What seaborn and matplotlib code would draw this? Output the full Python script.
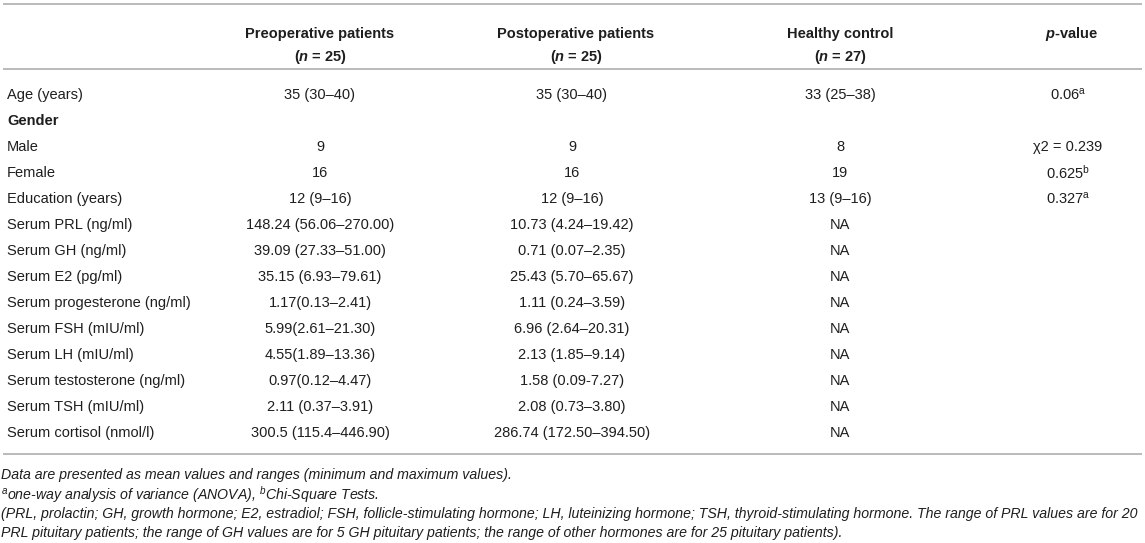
import matplotlib
matplotlib.use("Agg")
import matplotlib.pyplot as plt
import seaborn as sns
import pandas as pd

# ---------------- data ----------------
row_labels = ["Age (years)", "Gender", "Male", "Female", "Education (years)",
              "Serum PRL (ng/ml)", "Serum GH (ng/ml)", "Serum E2 (pg/ml)",
              "Serum progesterone (ng/ml)", "Serum FSH (mIU/ml)", "Serum LH (mIU/ml)",
              "Serum testosterone (ng/ml)", "Serum TSH (mIU/ml)", "Serum cortisol (nmol/l)"]
bold_rows = ["Gender"]
preop = ["35 (30–40)", "", "9", "16", "12 (9–16)", "148.24 (56.06–270.00)",
         "39.09 (27.33–51.00)", "35.15 (6.93–79.61)", "1.17(0.13–2.41)",
         "5.99(2.61–21.30)", "4.55(1.89–13.36)", "0.97(0.12–4.47)",
         "2.11 (0.37–3.91)", "300.5 (115.4–446.90)"]
postop = ["35 (30–40)", "", "9", "16", "12 (9–16)", "10.73 (4.24–19.42)",
          "0.71 (0.07–2.35)", "25.43 (5.70–65.67)", "1.11 (0.24–3.59)",
          "6.96 (2.64–20.31)", "2.13 (1.85–9.14)", "1.58 (0.09-7.27)",
          "2.08 (0.73–3.80)", "286.74 (172.50–394.50)"]
healthy = ["33 (25–38)", "", "8", "19", "13 (9–16)", "NA", "NA", "NA", "NA",
           "NA", "NA", "NA", "NA", "NA"]
pvalue = ["0.06$^{\\mathrm{a}}$", "", "χ2 = 0.239", "0.625$^{\\mathrm{b}}$",
          "0.327$^{\\mathrm{a}}$", "", "", "", "", "", "", "", "", ""]
header_line1 = ["Preoperative patients", "Postoperative patients", "Healthy control",
                "$\\mathbfit{p}$-value"]
header_line2 = ["($\\mathbfit{n}$ = 25)", "($\\mathbfit{n}$ = 25)", "($\\mathbfit{n}$ = 27)", ""]
footnotes = [
    "Data are presented as mean values and ranges (minimum and maximum values).",
    "$^{a}$one-way analysis of variance (ANOVA), $^{b}$Chi-Square Tests.",
    "(PRL, prolactin; GH, growth hormone; E2, estradiol; FSH, follicle-stimulating hormone; "
    "LH, luteinizing hormone; TSH, thyroid-stimulating hormone. The range of PRL values are for 20",
    "PRL pituitary patients; the range of GH values are for 5 GH pituitary patients; "
    "the range of other hormones are for 25 pituitary patients).",
]

df = pd.DataFrame({"label": row_labels, "pre": preop, "post": postop,
                   "healthy": healthy, "p": pvalue})

# ---------------- style ----------------
sns.set_theme(style="white")
plt.rcParams["font.family"] = ["Liberation Sans", "DejaVu Sans"]
plt.rcParams["mathtext.fontset"] = "custom"
plt.rcParams["mathtext.rm"] = "Liberation Sans"
plt.rcParams["mathtext.it"] = "Liberation Sans:italic"
plt.rcParams["mathtext.bf"] = "Liberation Sans:bold"
plt.rcParams["mathtext.bfit"] = "Liberation Sans:bold:italic"

W, H = 1145, 543
fig = plt.figure(figsize=(W / 100, H / 100), dpi=100)
ax = fig.add_axes([0, 0, 1, 1])
ax.set_xlim(0, W)
ax.set_ylim(H, 0)
ax.axis("off")

txt = "#1e1e1e"
rule = "#b4b4b4"
fs = 10.5
col_x = {"pre": 320, "post": 572, "healthy": 840, "p": 1068}
hdr_x = [320, 576, 840, 1072]
left_x = 7

y_top_rule = 4
y_h1, y_h2 = 34, 57
y_hdr_rule = 69
y_row0, pitch = 95, 26.0
y_bot_rule = 454
y_foot0, foot_pitch = 475, 19.3

for y in (y_top_rule, y_hdr_rule, y_bot_rule):
    ax.plot([3, W - 3], [y, y], color=rule, lw=1.3, solid_capstyle="butt")

for x, t1, t2 in zip(hdr_x, header_line1, header_line2):
    ax.text(x, y_h1, t1, ha="center", va="center", fontsize=fs, fontweight="bold", color=txt)
    if t2:
        ax.text(x, y_h2, t2, ha="center", va="center", fontsize=fs, fontweight="bold", color=txt)

for i, r in df.iterrows():
    y = y_row0 + i * pitch
    ax.text(left_x, y, r["label"], ha="left", va="center", fontsize=fs, color=txt,
            fontweight="bold" if r["label"] in bold_rows else "normal")
    for c in ("pre", "post", "healthy", "p"):
        if r[c]:
            ax.text(col_x[c], y, r[c], ha="center", va="center", fontsize=fs, color=txt)

# footnotes: fit the long line to the figure width
renderer = fig.canvas.get_renderer()
probe = ax.text(0, 0, footnotes[2], fontsize=10, style="italic")
w10 = probe.get_window_extent(renderer).width
probe.remove()
ffs = 10 * 1136 / w10
for k, f in enumerate(footnotes):
    ax.text(left_x - 6, y_foot0 + k * foot_pitch, f, ha="left", va="center",
            fontsize=ffs, style="italic", color=txt)

fig.savefig("out.png", dpi=100)
